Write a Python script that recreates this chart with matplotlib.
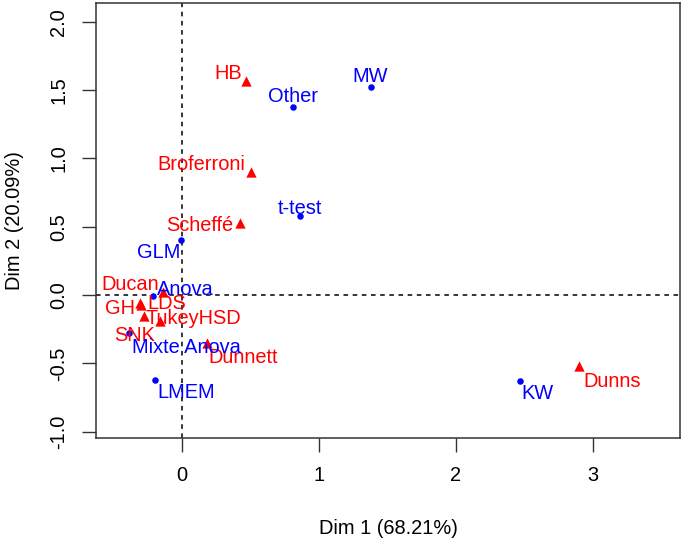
import matplotlib
matplotlib.use("Agg")
import matplotlib.pyplot as plt

plt.rcParams['font.family'] = ['Liberation Sans', 'DejaVu Sans']

# Column points (blue dots)
col_labels = ["MW", "Other", "t-test", "GLM", "Anova", "Mixte Anova", "LMEM", "KW"]
col_dim1 = [1.38, 0.81, 0.86, -0.01, -0.21, -0.39, -0.20, 2.47]
col_dim2 = [1.52, 1.38, 0.58, 0.40, -0.01, -0.28, -0.62, -0.63]

# Row points (red triangles)
row_labels = ["HB", "Broferroni", "Scheffé", "Ducan", "GH", "SNK", "LDS", "TukeyHSD", "Dunnett", "Dunns"]
row_dim1 = [0.47, 0.50, 0.42, -0.14, -0.31, -0.30, -0.28, -0.16, 0.18, 2.90]
row_dim2 = [1.57, 0.90, 0.53, 0.02, -0.06, -0.07, -0.15, -0.19, -0.35, -0.52]

xticks = [0, 1, 2, 3]
yticks = [-1.0, -0.5, 0.0, 0.5, 1.0, 1.5, 2.0]

# label placement offsets (pixels, text centre relative to point)
col_off = {"MW": (-1, 11), "Other": (0, 10), "t-test": (0, 7), "GLM": (-22, -12),
           "Anova": (32, 7), "Mixte Anova": (58, -14), "LMEM": (32, -13), "KW": (17, -12)}
row_off = {"HB": (-18, 7), "Broferroni": (-49, 8), "Scheffé": (-40, -3), "Ducan": (-33, 8),
           "GH": (-20, -5), "SNK": (-6, -31), "LDS": (23, 12), "TukeyHSD": (33, 3),
           "Dunnett": (36, -15), "Dunns": (33, -15)}

W, H = 684, 539
fig = plt.figure(figsize=(W / 100, H / 100), dpi=100)
ax = fig.add_axes([96 / W, 1 - 438 / H, (680 - 96) / W, (438 - 3) / H])
ax.set_xlim(-0.628, 3.635)
ax.set_ylim(-1.046, 2.138)

ax.axhline(0, color='black', linestyle=(0, (3, 3)), linewidth=1.1, zorder=1)
ax.axvline(0, color='black', linestyle=(0, (3, 3)), linewidth=1.1, zorder=1)

ax.scatter(row_dim1, row_dim2, marker='^', s=55, color='#FF0000', linewidths=0, zorder=3)
ax.scatter(col_dim1, col_dim2, marker='o', s=22, color='#0000FF', linewidths=0, zorder=3)

fs = 14.4
for lab, x, y in zip(row_labels, row_dim1, row_dim2):
    dx, dy = row_off[lab]
    ax.annotate(lab, (x, y), xytext=(dx, dy), textcoords='offset pixels',
                ha='center', va='center', color='#FF0000', fontsize=fs, zorder=4)
for lab, x, y in zip(col_labels, col_dim1, col_dim2):
    dx, dy = col_off[lab]
    ax.annotate(lab, (x, y), xytext=(dx, dy), textcoords='offset pixels',
                ha='center', va='center', color='#0000FF', fontsize=fs, zorder=4)

ax.set_xticks(xticks)
ax.set_xticklabels([str(t) for t in xticks])
ax.set_yticks(yticks)
ax.set_yticklabels([f"{t:.1f}" for t in yticks], rotation=90, va='center')
ax.tick_params(axis='both', length=10, width=1.0, labelsize=14.4, color='#333333')
ax.tick_params(axis='x', pad=10)
ax.tick_params(axis='y', pad=10)
for sp in ax.spines.values():
    sp.set_linewidth(1.1)
    sp.set_color('#333333')

ax.set_xlabel("Dim 1 (68.21%)", fontsize=14.4, va='center')
ax.set_ylabel("Dim 2 (20.09%)", fontsize=14.4, va='center')
ax.xaxis.set_label_coords(0.5, (438 - 529) / 435)
ax.yaxis.set_label_coords((15 - 96) / 584, 0.5)

fig.savefig("out.png", dpi=100)
